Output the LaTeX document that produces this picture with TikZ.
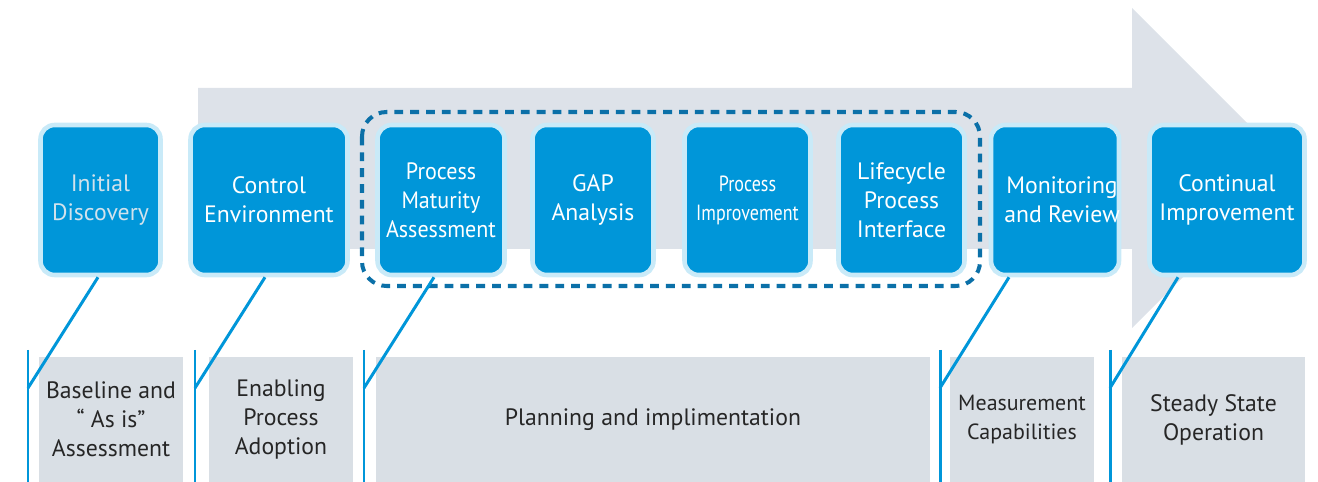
\documentclass[tikz,border=0pt]{standalone}
\usepackage{fontspec}
\setmainfont{PT Sans}
\usepackage{tikz}
\usetikzlibrary{calc}

\definecolor{stepblue}{HTML}{0096D9}
\definecolor{rimblue}{HTML}{C9EAF8}
\definecolor{dimtext}{HTML}{D2E2EC}
\definecolor{dashblue}{HTML}{0B70A8}
\definecolor{shaftgrey}{HTML}{DDE2E9}
\definecolor{footgrey}{HTML}{D9DFE5}
\definecolor{footink}{HTML}{262626}

\newcommand{\narrow}[2]{\scalebox{#1}[1]{#2}}

\tikzset{
  phase/.style={draw=rimblue, fill=stepblue, line width=2.6pt, rounded corners=8pt,
    minimum height=3cm, align=center, text=white, font=\fontsize{13.5}{16.5}\selectfont},
  outcome/.style={fill=footgrey, minimum height=2.5cm, align=center, text=footink,
    font=\fontsize{13.5}{16.5}\selectfont},
  link/.style={stepblue, line width=1.7pt}
}

\begin{document}
\begin{tikzpicture}[x=0.02cm,y=-0.02cm]
      \useasboundingbox (0,0) rectangle (1318,482);
      % big arrow behind the phases
      \fill[shaftgrey] (198,88) -- (1132,88) -- (1132,8) -- (1292,168)
        -- (1132,328) -- (1132,249) -- (198,249) -- cycle;

      % phases
      \node[phase, minimum width=2.4cm, text=dimtext] (disc) at (100.5,200) {Initial\\Discovery};
      \node[phase, minimum width=3.14cm] (ctrl) at (269,200) {Control\\Environment};
      \node[phase, minimum width=2.54cm] (pma) at (441,200)
        {\narrow{0.93}{Process}\\\narrow{0.93}{Maturity}\\\narrow{0.93}{Assessment}};
      \node[phase, minimum width=2.42cm] (gap) at (593,200) {GAP\\Analysis};
      \node[phase, minimum width=2.52cm, font=\fontsize{12.5}{16.5}\selectfont] (pimp) at (747.5,200)
        {\narrow{0.82}{Process}\\\narrow{0.82}{Improvement}};
      \node[phase, minimum width=2.52cm] (life) at (901.5,200) {Lifecycle\\Process\\Interface};
      \node[phase, minimum width=2.56cm] (mon) at (1055,200) {};
      \node[text=white, align=center, font=\fontsize{13.5}{16.5}\selectfont] (monl) at (1062,200) {Monitoring\\and Review};
      \node[phase, minimum width=3.1cm] (cont) at (1227,200) {Continual\\Improvement};

      % group round the middle phases
      \draw[dashblue, line width=2.3pt, dash pattern=on 5pt off 4pt, rounded corners=14pt]
        (362,112) rectangle (980,286);

      % outcomes
      \node[outcome, minimum width=2.88cm] (base) at (111,419.5) {Baseline and\\“ As is”\\Assessment};
      \node[outcome, minimum width=2.88cm] (enab) at (281,419.5) {Enabling\\Process\\Adoption};
      \node[outcome, minimum width=11.08cm] (plan) at (653,419.5) {Planning and implimentation};
      \node[outcome, minimum width=2.88cm, font=\fontsize{12.5}{16.5}\selectfont] (meas) at (1022,419.5) {Measurement\\Capabilities};
      \node[outcome, minimum width=3.66cm] (steady) at (1213.5,419.5) {Steady State\\Operation};

      % ticks and knees
      \coordinate (t1) at (28,350);  \coordinate (k1) at (28,388);  \coordinate (e1) at (28,482);
      \coordinate (t2) at (195,350); \coordinate (k2) at (195,388); \coordinate (e2) at (195,482);
      \coordinate (t3) at (364,350); \coordinate (k3) at (364,388); \coordinate (e3) at (364,482);
      \coordinate (t4) at (940,350); \coordinate (k4) at (940,388); \coordinate (e4) at (940,482);
      \coordinate (t5) at (1110,350); \coordinate (k5) at (1110,388); \coordinate (e5) at (1110,482);

      \draw[link] ($(disc.south)+(-2.5,0)$) -- (k1);
      \draw[link] ($(ctrl.south)+(-4,0)$) -- (k2);
      \draw[link] ($(pma.south)+(-7,0)$) -- (k3);
      \draw[link] ($(mon.south)+(-46,0)$) -- (k4);
      \draw[link] ($(cont.south)+(-49,0)$) -- (k5);
      \draw[link] (t1) -- (e1);
      \draw[link] (t2) -- (e2);
      \draw[link] (t3) -- (e3);
      \draw[link] (t4) -- (e4);
      \draw[link] (t5) -- (e5);
    \end{tikzpicture}
\end{document}
